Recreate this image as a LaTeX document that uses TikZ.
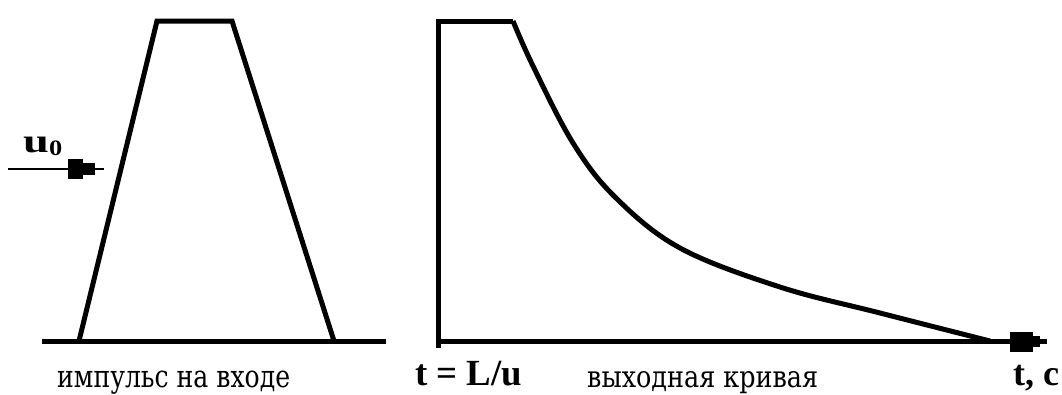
\documentclass[tikz,border=0pt]{standalone}
\usepackage{fontspec}
\setmainfont{Liberation Serif}
\newfontfamily\cyrfnt{DejaVu Serif}
\begin{document}
\begin{tikzpicture}[x=1pt,y=-1pt,
  curve/.style={line width=5pt, line join=miter},
  axisline/.style={line width=5pt},
  cyrlabel/.style={anchor=base west, inner sep=0pt, font=\cyrfnt\fontsize{24}{26}\selectfont},
  boldlabel/.style={anchor=base west, inner sep=0pt, font=\bfseries\fontsize{32}{34}\selectfont},
  marker/.style={fill=black, draw=none}
]
\useasboundingbox (0,0) rectangle (1062,394);
\fill[white] (0,0) rectangle (1062,394);

% ---- left figure: input pulse ----
\coordinate (lb0) at (42,341);
\coordinate (lb1) at (386,341);
\coordinate (p1) at (79,341);
\coordinate (p2) at (157,21);
\coordinate (p3) at (232,21);
\coordinate (p4) at (334,341);
\draw[axisline] (lb0) -- (lb1);
\draw[curve] (p1) -- (p2) -- (p3) -- (p4);

% input arrow u0
\coordinate (ua) at (8,169);
\coordinate (ub) at (104,169);
\draw[line width=2.5pt] (ua) -- (ub);
\fill[marker] (68,159) rectangle (83,179);
\fill[marker] (83,163) rectangle (95,175);
\node[boldlabel] (u0) at (23,152) {\scalebox{1.45}[1.05]{u}\raisebox{-0.25ex}{\scalebox{1.2}[1]{\fontsize{22}{24}\selectfont 0}}};

% ---- right figure: output curve ----
\coordinate (rv0) at (438,348);
\coordinate (rv1) at (438,21);
\coordinate (rt1) at (513,21);
\coordinate (rb0) at (436,341);
\coordinate (rb1) at (1047,341);
\draw[axisline] (rb0) -- (rb1);
\draw[curve] (rv0) -- (rv1) -- (rt1);
\draw[curve] plot[smooth, tension=0.6] coordinates {(513,21) (533,66) (573,143) (615,197) (680,248) (780,287) (880,313) (990,341)};
\fill[marker] (1010,332) rectangle (1033,352);
\fill[marker] (1033,336) rectangle (1040,347);

% ---- labels ----
\node[cyrlabel] (inlbl) at (57,387) {\resizebox{233pt}{16.5pt}{импульс на входе}};
\node[cyrlabel] (outlbl) at (587,387) {\resizebox{231pt}{16pt}{выходная кривая}};
\node[boldlabel] (tl) at (415,385) {\resizebox{107pt}{!}{t = L/u}};
\node[boldlabel] (tc) at (1013,385) {\resizebox{46pt}{!}{t, c}};
\end{tikzpicture}
\end{document}
